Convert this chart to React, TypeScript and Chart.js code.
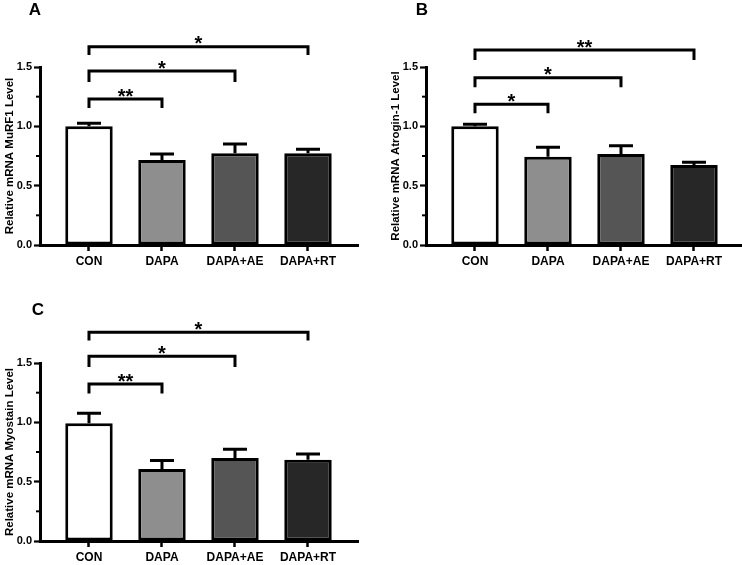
import React, { useEffect, useRef } from "react";
import Chart from "chart.js/auto";

// ---------- data ----------
const categories = ["CON", "DAPA", "DAPA+AE", "DAPA+RT"];
const barColors = ["#ffffff", "#8e8e8e", "#555555", "#272727"];

const valuesA = [1.0, 0.716, 0.773, 0.773];
const errorsA = [0.026, 0.051, 0.078, 0.033];
const valuesB = [1.0, 0.744, 0.767, 0.674];
const errorsB = [0.017, 0.079, 0.07, 0.023];
const valuesC = [0.992, 0.607, 0.699, 0.685];
const errorsC = [0.084, 0.072, 0.075, 0.048];

// significance brackets: all start at CON (index 0)
const bracketTo = [1, 2, 3];
const bracketLevelA = [1.23, 1.466, 1.671];
const bracketLegA = [1.155, 1.374, 1.601];
const starsA = ["**", "*", "*"];
const bracketLevelB = [1.186, 1.41, 1.643];
const bracketLegB = [1.11, 1.329, 1.559];
const starsB = ["*", "*", "**"];
const bracketLevelC = [1.322, 1.556, 1.76];
const bracketLegC = [1.244, 1.467, 1.69];
const starsC = ["**", "*", "*"];

const yTickStep = 0.25;
const yMajorStep = 0.5;
const yMin = 0;
const yMax = 1.5;

const FONT = '"Liberation Sans", Arial, Helvetica, sans-serif';

const isMajor = (v: number) => Math.abs(v / yMajorStep - Math.round(v / yMajorStep)) < 1e-6;

type PanelProps = {
  left: number;
  top: number;
  letter: string;
  letterX: number;
  letterY: number;
  title: string;
  values: number[];
  errors: number[];
  levels: number[];
  legs: number[];
  stars: string[];
};

function Panel(p: PanelProps) {
  const ref = useRef<HTMLCanvasElement | null>(null);
  useEffect(() => {
    if (!ref.current) return;
    const annot = {
      id: "annot",
      afterDatasetsDraw(chart: any) {
        const ctx = chart.ctx;
        const xs = chart.scales.x;
        const ys = chart.scales.y;
        ctx.save();
        ctx.strokeStyle = "#000";
        ctx.lineWidth = 3;
        ctx.lineCap = "butt";
        p.values.forEach((v, i) => {
          const x = xs.getPixelForValue(i);
          const y0 = ys.getPixelForValue(v);
          const y1 = ys.getPixelForValue(v + p.errors[i]);
          ctx.beginPath();
          ctx.moveTo(x, y0);
          ctx.lineTo(x, y1);
          ctx.moveTo(x - 12, y1);
          ctx.lineTo(x + 12, y1);
          ctx.stroke();
        });
        // minor y ticks (short)
        ctx.lineWidth = 2;
        ys.ticks.forEach((t: any) => {
          if (isMajor(t.value)) return;
          const y = ys.getPixelForValue(t.value);
          ctx.beginPath();
          ctx.moveTo(chart.chartArea.left - 4, y);
          ctx.lineTo(chart.chartArea.left, y);
          ctx.stroke();
        });
        ctx.restore();
      },
      afterDraw(chart: any) {
        const ctx = chart.ctx;
        const xs = chart.scales.x;
        const ys = chart.scales.y;
        ctx.save();
        ctx.strokeStyle = "#000";
        ctx.fillStyle = "#000";
        ctx.lineWidth = 3;
        ctx.lineJoin = "miter";
        const fs = 20;
        ctx.font = `bold ${fs}px ${FONT}`;
        ctx.textAlign = "center";
        ctx.textBaseline = "alphabetic";
        bracketTo.forEach((to, k) => {
          const x0 = xs.getPixelForValue(0);
          const x1 = xs.getPixelForValue(to);
          const yl = ys.getPixelForValue(p.levels[k]);
          const yg = ys.getPixelForValue(p.legs[k]);
          ctx.beginPath();
          ctx.moveTo(x0, yg);
          ctx.lineTo(x0, yl);
          ctx.lineTo(x1, yl);
          ctx.lineTo(x1, yg);
          ctx.stroke();
          ctx.fillText(p.stars[k], (x0 + x1) / 2, yl - 8 + 0.575 * fs);
        });
        ctx.restore();
      },
    };

    const chart = new Chart(ref.current, {
      type: "bar",
      data: {
        datasets: [
          {
            data: categories.map((_, i) => ({ x: i, y: p.values[i] })),
            backgroundColor: barColors,
            borderColor: "#000",
            borderWidth: 3,
            borderSkipped: false,
            barPercentage: 0.65,
            categoryPercentage: 1,
          },
        ],
      },
      options: {
        responsive: false,
        animation: false,
        devicePixelRatio: 1,
        layout: { padding: { top: 67, right: 12, bottom: 0, left: 0 } },
        plugins: { legend: { display: false }, tooltip: { enabled: false } },
        scales: {
          x: {
            type: "linear",
            offset: false,
            min: -0.671,
            max: 3.685,
            afterBuildTicks: (s: any) => {
              s.ticks = categories.map((_, i) => ({ value: i }));
            },
            afterFit: (s: any) => {
              s.height = 35;
            },
            ticks: {
              autoSkip: false,
              maxRotation: 0,
              padding: 3,
              color: "#000",
              font: { family: FONT, size: 12, weight: "bold" },
              callback: (v: any) => categories[v] ?? "",
            },
            grid: {
              display: true,
              offset: false,
              drawOnChartArea: false,
              drawTicks: true,
              tickLength: 6,
              tickWidth: 2.5,
              tickColor: "#000",
            },
            border: { display: true, width: 3, color: "#000" },
          },
          y: {
            min: yMin,
            max: yMax,
            afterFit: (s: any) => {
              s.width = 40;
            },
            ticks: {
              stepSize: yTickStep,
              padding: 2,
              color: "#000",
              font: { family: FONT, size: 11, weight: "bold" },
              callback: (v: any) => (isMajor(Number(v)) ? Number(v).toFixed(1) : ""),
            },
            grid: {
              display: true,
              drawOnChartArea: false,
              drawTicks: true,
              tickLength: 6,
              tickWidth: 2.2,
              tickColor: (c: any) => (c.tick && isMajor(c.tick.value) ? "#000" : "rgba(0,0,0,0)"),
            },
            border: { display: true, width: 3, color: "#000" },
            title: {
              display: true,
              text: p.title,
              color: "#000",
              padding: { top: 3, bottom: 0 },
              font: { family: FONT, size: 11.5, weight: "bold" },
            },
          },
        },
      },
      plugins: [annot],
    } as any);
    return () => chart.destroy();
  }, []);

  return (
    <>
      <canvas
        ref={ref}
        width={370}
        height={280}
        style={{ position: "absolute", left: p.left, top: p.top, width: 370, height: 280 }}
      />
      <div
        style={{
          position: "absolute",
          left: p.letterX - 10,
          top: p.letterY - 10,
          width: 20,
          height: 20,
          lineHeight: "20px",
          textAlign: "center",
          fontFamily: FONT,
          fontWeight: "bold",
          fontSize: 17,
          color: "#000",
        }}
      >
        {p.letter}
      </div>
    </>
  );
}

export default function App() {
  return (
    <div
      style={{
        position: "fixed",
        left: 0,
        top: 0,
        width: 742,
        height: 565,
        overflow: "hidden",
        background: "#fff",
      }}
    >
      <Panel
        left={0}
        top={0}
        letter="A"
        letterX={35}
        letterY={10}
        title="Relative mRNA MuRF1 Level"
        values={valuesA}
        errors={errorsA}
        levels={bracketLevelA}
        legs={bracketLegA}
        stars={starsA}
      />
      <Panel
        left={386}
        top={0}
        letter="B"
        letterX={422}
        letterY={10}
        title="Relative mRNA Atrogin-1 Level"
        values={valuesB}
        errors={errorsB}
        levels={bracketLevelB}
        legs={bracketLegB}
        stars={starsB}
      />
      <Panel
        left={0}
        top={296}
        letter="C"
        letterX={38}
        letterY={310}
        title="Relative mRNA Myostain Level"
        values={valuesC}
        errors={errorsC}
        levels={bracketLevelC}
        legs={bracketLegC}
        stars={starsC}
      />
    </div>
  );
}
